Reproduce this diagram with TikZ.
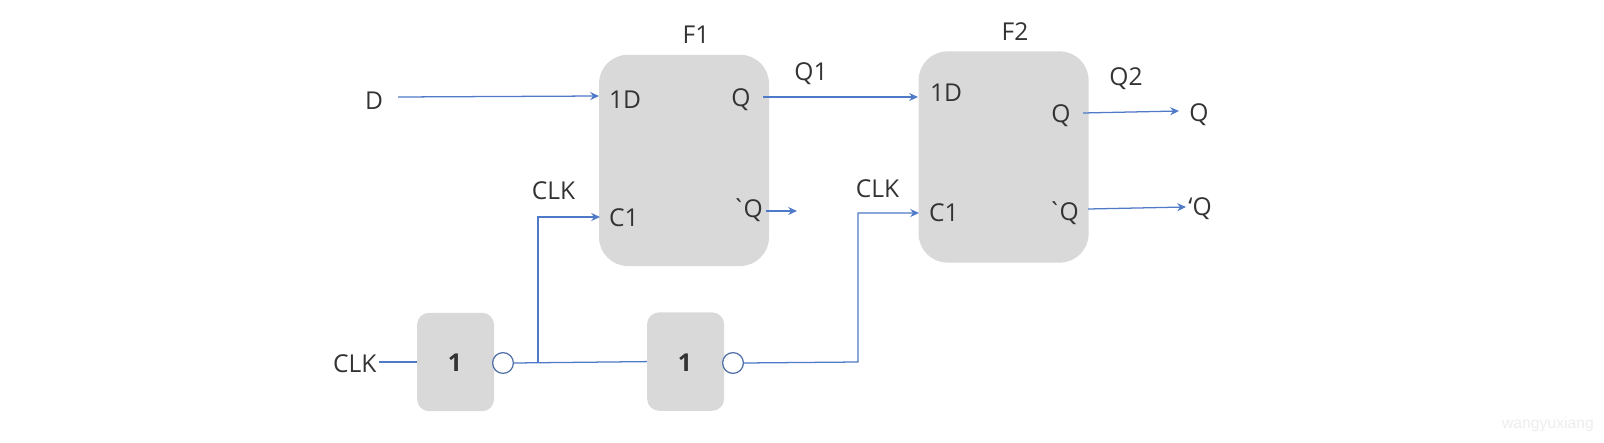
\documentclass[tikz,border=0pt]{standalone}
\usepackage{fontspec}
\usepackage{xcolor}
\usetikzlibrary{arrows.meta,calc}
\newfontfamily\labelfont{Open Sans}
\newfontfamily\markfont{Liberation Sans}
\definecolor{BoxGray}{RGB}{217,217,217}
\definecolor{WireBlue}{RGB}{78,122,200}
\definecolor{RingBlue}{RGB}{82,113,168}
\definecolor{TextGray}{RGB}{51,51,51}

\begin{document}
\begin{tikzpicture}[
    ffbox/.style={fill=BoxGray,rounded corners=0.72cm,minimum width=4.25cm,minimum height=5.28cm},
    gatebox/.style={fill=BoxGray,rounded corners=0.3cm,minimum width=1.925cm,minimum height=2.46cm},
    bubble/.style={circle,draw=RingBlue,fill=white,line width=0.9pt,inner sep=0pt,minimum size=0.52cm},
    lbl/.style={inner sep=0pt,yshift=-0.3mm,font=\labelfont\fontsize{17.5}{20}\selectfont,text=TextGray},
    gatelbl/.style={inner sep=0pt,font=\labelfont\bfseries\fontsize{17.5}{20}\selectfont,text=TextGray},
    wire/.style={WireBlue,line width=0.9pt},
    arrow/.style={-{Stealth[length=2.2mm,width=2mm]},WireBlue,line width=0.9pt}]

    \useasboundingbox (0,0) rectangle (40.1,11.05);

    \node[ffbox] (F1) at (17.1,7.04) {};
    \node[ffbox] (F2) at (25.09,7.125) {};
    \node[gatebox] (G1) at (11.39,2.0) {};
    \node[gatebox] (G2) at (17.14,2.01) {};
    \node[bubble] (B1) at (12.575,1.975) {};
    \node[bubble] (B2) at (18.325,1.975) {};

    \node[lbl] (Dlbl) at (9.35,8.55) {D};
    \node[lbl] (F1name) at (17.4,10.2) {F1};
    \node[lbl] (F1d) at (15.625,8.575) {1D};
    \node[lbl] (F1q) at (18.525,8.6) {Q};
    \node[lbl] (F1c) at (15.6,5.625) {C1};
    \node[lbl] (F1nq) at (18.68,5.825) {`\kern-1.5pt Q};
    \node[lbl] (CLKa) at (13.84,6.3) {CLK};
    \node[lbl] (Q1lbl) at (20.275,9.25) {Q1};
    \node[lbl] (F2name) at (25.375,10.3) {F2};
    \node[lbl] (F2d) at (23.65,8.75) {1D};
    \node[lbl] (F2q) at (26.525,8.2) {Q};
    \node[lbl] (F2c) at (23.6,5.75) {C1};
    \node[lbl] (F2nq) at (26.58,5.75) {`\kern-1.5pt Q};
    \node[lbl] (CLKb) at (21.94,6.35) {CLK};
    \node[lbl] (Q2lbl) at (28.15,9.125) {Q2};
    \node[lbl] (Qout) at (29.975,8.225) {Q};
    \node[lbl] (NQout) at (30.0,5.875) {‘Q};
    \node[lbl] (CLKin) at (8.87,1.975) {CLK};
    \node[gatelbl] (G1lbl) at (11.375,1.975) {1};
    \node[gatelbl] (G2lbl) at (17.125,1.975) {1};
    \node[inner sep=0pt,font=\markfont\fontsize{11.2}{13}\selectfont,text=black!7] (mark) at (38.7,0.45) {wangyuxiang};

    % free ends of the connectors
    \coordinate (Dend) at (9.95,8.625);
    \coordinate (Djoin) at (14.975,8.65);
    \coordinate (Q1start) at (19.075,8.625);
    \coordinate (Q1end) at (22.95,8.625);
    \coordinate (NQstart) at (19.15,5.775);
    \coordinate (NQend) at (19.925,5.775);
    \coordinate (Jn) at (13.45,1.975);
    \coordinate (C1a) at (15.0,5.625);
    \coordinate (C1b) at (22.975,5.725);
    \coordinate (Bend) at (21.45,2.0);
    \coordinate (Q2start) at (27.075,8.225);
    \coordinate (Q2end) at (29.475,8.275);
    \coordinate (NQ2start) at (27.2,5.825);
    \coordinate (NQ2end) at (29.65,5.875);
    \coordinate (CLKstart) at (9.475,2.0);

    \draw[arrow] (Dend) -- (Djoin);
    \draw[arrow] (Q1start) -- (Q1end);
    \draw[arrow] (NQstart) -- (NQend);
    \draw[arrow] (Q2start) -- (Q2end);
    \draw[arrow] (NQ2start) -- (NQ2end);
    \draw[wire] (CLKstart) -- (G1.west |- CLKstart);
    \draw[wire] (B1.east) -- (G2.west);
    \draw[arrow] (Jn) |- (C1a);
    \draw[arrow] (B2.east) -- (Bend) |- (C1b);
\end{tikzpicture}
\end{document}
